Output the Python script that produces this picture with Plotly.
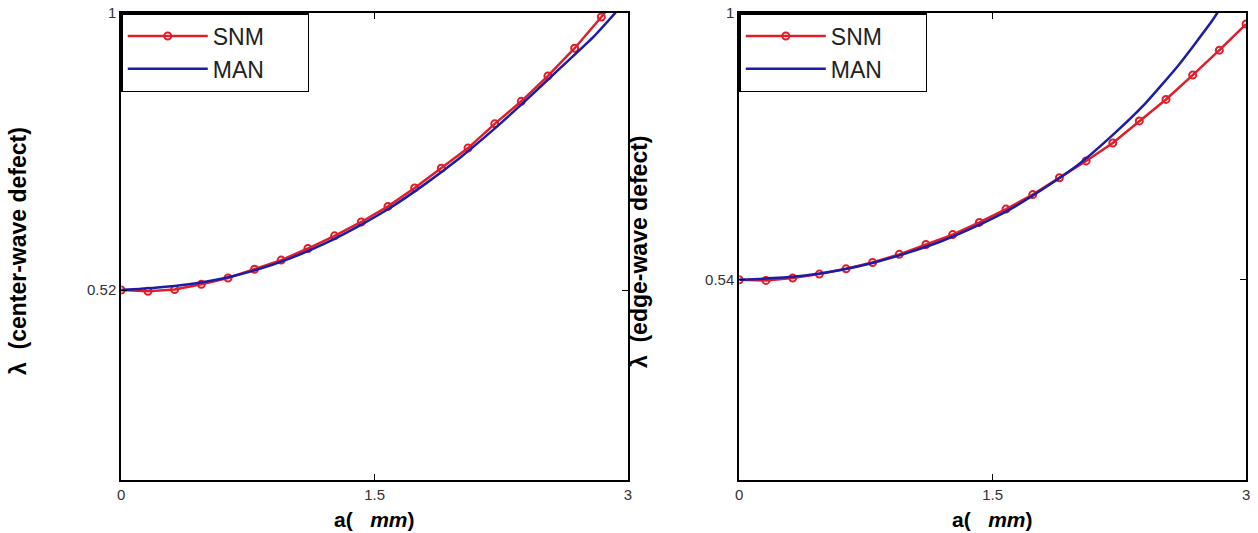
import plotly.graph_objects as go

# ---- data ----
a_snm = [0.0, 0.158, 0.316, 0.474, 0.632, 0.789, 0.947, 1.105, 1.263, 1.421,
         1.579, 1.737, 1.895, 2.053, 2.211, 2.368, 2.526, 2.684, 2.842, 3.0]
center_snm = [0.520, 0.518, 0.521, 0.530, 0.541, 0.556, 0.572, 0.592, 0.614, 0.638,
              0.665, 0.697, 0.731, 0.766, 0.808, 0.847, 0.891, 0.939, 0.993, 1.050]
edge_snm = [0.540, 0.539, 0.543, 0.550, 0.559, 0.570, 0.584, 0.601, 0.618, 0.639,
            0.662, 0.687, 0.716, 0.745, 0.776, 0.814, 0.851, 0.893, 0.936, 0.981]

a_man_center = [0.0, 0.2, 0.4, 0.6, 0.8, 1.0, 1.2, 1.4, 1.6, 1.8, 2.0, 2.2, 2.4, 2.6, 2.8, 3.0]
center_man = [0.520, 0.524, 0.530, 0.540, 0.555, 0.575, 0.600, 0.630, 0.664, 0.704,
              0.748, 0.797, 0.850, 0.905, 0.960, 1.025]
a_man_edge = [0.0, 0.2, 0.4, 0.6, 0.8, 1.0, 1.2, 1.4, 1.6, 1.8, 2.0, 2.2, 2.4, 2.6, 2.8, 2.9]
edge_man = [0.540, 0.543, 0.548, 0.557, 0.570, 0.587, 0.607, 0.632, 0.661, 0.697,
            0.737, 0.787, 0.843, 0.910, 0.987, 1.032]

x_ticks = [0, 1.5, 3]
x_tick_text = ["0", "1.5", "3"]
left_yticks = [0.52, 1]
right_yticks = [0.54, 1]
left_yrange = [0.191, 1]
right_yrange = [0.195, 1]

RED = "#e01e2b"
BLUE = "#1c1ca8"
FONT = "Liberation Sans, Arial, sans-serif"
PAD = "\u00a0\u00a0\u00a0\u00a0\u00a0\u00a0"

fig = go.Figure()

fig.add_trace(go.Scatter(x=a_snm, y=center_snm, name="SNM" + PAD, mode="lines+markers",
                         line=dict(color=RED, width=2.5),
                         marker=dict(symbol="circle-open", size=7, color=RED, line=dict(width=2)),
                         xaxis="x", yaxis="y", legend="legend"))
fig.add_trace(go.Scatter(x=a_man_center, y=center_man, name="MAN" + PAD, mode="lines",
                         line=dict(color=BLUE, width=2.5, shape="spline", smoothing=0.5),
                         xaxis="x", yaxis="y", legend="legend"))
fig.add_trace(go.Scatter(x=a_snm, y=edge_snm, name="SNM" + PAD, mode="lines+markers",
                         line=dict(color=RED, width=2.5),
                         marker=dict(symbol="circle-open", size=7, color=RED, line=dict(width=2)),
                         xaxis="x2", yaxis="y2", legend="legend2"))
fig.add_trace(go.Scatter(x=a_man_edge, y=edge_man, name="MAN" + PAD, mode="lines",
                         line=dict(color=BLUE, width=2.5, shape="spline", smoothing=0.5),
                         xaxis="x2", yaxis="y2", legend="legend2"))

W, H = 1258, 533
L1, R1 = 118 / W, 628 / W
L2, R2 = 740 / W, 1250 / W

axis_common = dict(showline=True, linecolor="black", linewidth=2, mirror="ticks",
                   ticks="inside", ticklen=6, tickwidth=1, tickcolor="black",
                   showgrid=False, zeroline=False,
                   tickfont=dict(family=FONT, size=15, color="#333333"))

title_font = dict(family=FONT, size=23, color="black", weight="bold")
xtitle_font = dict(family=FONT, size=21, color="black", weight="bold")

fig.update_layout(
    width=W, height=H,
    margin=dict(l=0, r=0, t=13, b=53),
    paper_bgcolor="white", plot_bgcolor="white",
    xaxis=dict(domain=[L1, R1], range=[0, 3], tickvals=x_ticks, ticktext=x_tick_text,
               anchor="y", **axis_common),
    yaxis=dict(domain=[0, 1], range=left_yrange, tickvals=left_yticks,
               ticktext=["0.52", "1"], anchor="x", **axis_common),
    xaxis2=dict(domain=[L2, R2], range=[0, 3], tickvals=x_ticks, ticktext=x_tick_text,
                anchor="y2", **axis_common),
    yaxis2=dict(domain=[0, 1], range=right_yrange, tickvals=right_yticks,
                ticktext=["0.54", "1"], anchor="x2", **axis_common),
    legend=dict(x=L1, y=1, xanchor="left", yanchor="top", bgcolor="white",
                bordercolor="black", borderwidth=1.5,
                font=dict(family=FONT, size=23, color="#222222"), itemwidth=80),
    legend2=dict(x=L2, y=1, xanchor="left", yanchor="top", bgcolor="white",
                 bordercolor="black", borderwidth=1.5,
                 font=dict(family=FONT, size=23, color="#222222"), itemwidth=80),
    showlegend=True,
    annotations=[
        dict(text="λ  (center-wave defect)", x=14 / W, y=0.49, xref="paper", yref="paper",
             textangle=-90, showarrow=False, xanchor="center", yanchor="middle",
             font=title_font),
        dict(text="λ  (edge-wave defect)", x=639 / W, y=0.49, xref="paper", yref="paper",
             textangle=-90, showarrow=False, xanchor="center", yanchor="middle",
             font=title_font),
        dict(text="a(   <i>mm</i>)", x=(L1 + R1) / 2, y=-39 / 467, xref="paper", yref="paper",
             showarrow=False, xanchor="center", yanchor="middle",
             font=xtitle_font),
        dict(text="a(   <i>mm</i>)", x=(L2 + R2) / 2, y=-39 / 467, xref="paper", yref="paper",
             showarrow=False, xanchor="center", yanchor="middle",
             font=xtitle_font),
    ],
)

fig.write_html("out.html", config={"displayModeBar": False},
               post_script="document.body.style.margin='0';document.body.style.overflow='hidden';")
